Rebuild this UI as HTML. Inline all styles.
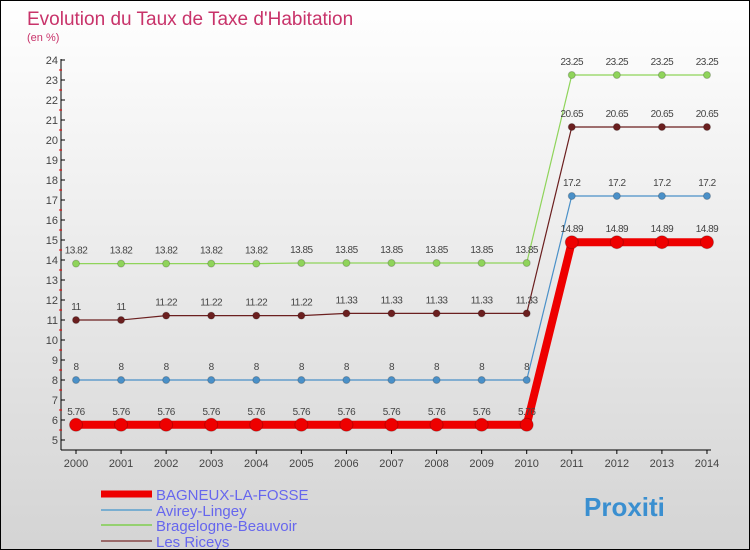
<!DOCTYPE html>
<html><head><meta charset="utf-8"><style>
body{margin:0}
#c{width:748px;height:548px;border:1px solid #000;background:linear-gradient(#fff,#d4d4d4);position:relative;font-family:"Liberation Sans",sans-serif;overflow:hidden}
</style></head><body>
<div id="c">
<svg id="s" width="748" height="548" xmlns="http://www.w3.org/2000/svg"></svg>
</div>
<script>
const years=[2000,2001,2002,2003,2004,2005,2006,2007,2008,2009,2010,2011,2012,2013,2014];
const yTicks=[5,6,7,8,9,10,11,12,13,14,15,16,17,18,19,20,21,22,23,24];
const bagneux=[5.76,5.76,5.76,5.76,5.76,5.76,5.76,5.76,5.76,5.76,5.76,14.89,14.89,14.89,14.89];
const avirey=[8,8,8,8,8,8,8,8,8,8,8,17.2,17.2,17.2,17.2];
const bragelogne=[13.82,13.82,13.82,13.82,13.82,13.85,13.85,13.85,13.85,13.85,13.85,23.25,23.25,23.25,23.25];
const riceys=[11,11,11.22,11.22,11.22,11.22,11.33,11.33,11.33,11.33,11.33,20.65,20.65,20.65,20.65];
const NS="http://www.w3.org/2000/svg";
const s=document.getElementById('s');
const X=i=>75+i*45.07;
const Y=v=>439-(v-5)*20;
function mk(t,a,p){const e=document.createElementNS(NS,t);for(const k in a)e.setAttribute(k,a[k]);(p||s).appendChild(e);return e;}
let t=mk('text',{x:26,y:24,'font-size':19,fill:'#c8336a'});t.textContent="Evolution du Taux de Taxe d'Habitation";

t=mk('text',{x:26,y:40,'font-size':11,fill:'#c8336a'});t.textContent="(en %)";

let a=mk('line',{x1:60,y1:58,x2:60,y2:449,stroke:'#000'});

a=mk('line',{x1:60,y1:449,x2:710,y2:449,stroke:'#000'});

yTicks.forEach(v=>{mk('line',{x1:60,y1:Y(v),x2:64,y2:Y(v),stroke:'#000'});
 if(v<24)mk('line',{x1:58,y1:Y(v+0.5),x2:61,y2:Y(v+0.5),stroke:'#e00'});
 const l=mk('text',{x:57,y:Y(v)+4,'font-size':11,fill:'#444','text-anchor':'end'});l.textContent=v;
 });
years.forEach((y,i)=>{mk('line',{x1:X(i),y1:449,x2:X(i),y2:453,stroke:'#000'});
 const l=mk('text',{x:X(i),y:466,'font-size':11,fill:'#444','text-anchor':'middle'});l.textContent=y;
 });
function series(vals,col,w,r,name,lblCol){
 const g=mk('g',{});
 mk('polyline',{points:vals.map((v,i)=>X(i)+','+Y(v)).join(' '),fill:'none',stroke:col,'stroke-width':w},g);
 vals.forEach((v,i)=>{const c=mk('circle',{cx:X(i),cy:Y(v),r:r,fill:col,stroke:'rgba(0,0,0,0.2)'},g);
  
  const l=mk('text',{x:X(i),y:Y(v)-10,'font-size':10,fill:'#444','text-anchor':'middle','letter-spacing':'-0.5'},g);
  l.textContent=String(v).replace('.','.');});
}
series(bragelogne,'#8fd45a',1.2,3.5,'series-bragelogne');
series(riceys,'#6b1f1f',1.2,3.5,'series-les-riceys');
series(avirey,'#4a90c8',1.2,3.5,'series-avirey');
series(bagneux,'#ee0000',8,6.5,'series-bagneux');
const leg=[['BAGNEUX-LA-FOSSE','#ee0000',7,493],['Avirey-Lingey','#7aaed0',2,509],['Bragelogne-Beauvoir','#95d070',2,524],['Les Riceys','#9a6a6a',2,540]];
leg.forEach(d=>{const g=mk('g',{});
 mk('line',{x1:100,y1:d[3]-0,x2:151,y2:d[3],stroke:d[1],'stroke-width':d[2]},g);
 const l=mk('text',{x:155,y:d[3]+6,'font-size':15,fill:'#6666ee'},g);l.textContent=d[0];});
t=mk('text',{x:583,y:515,'font-size':26,'font-weight':'bold',fill:'#3a8fd0'});t.textContent="Proxiti";

</script>
</body></html>
